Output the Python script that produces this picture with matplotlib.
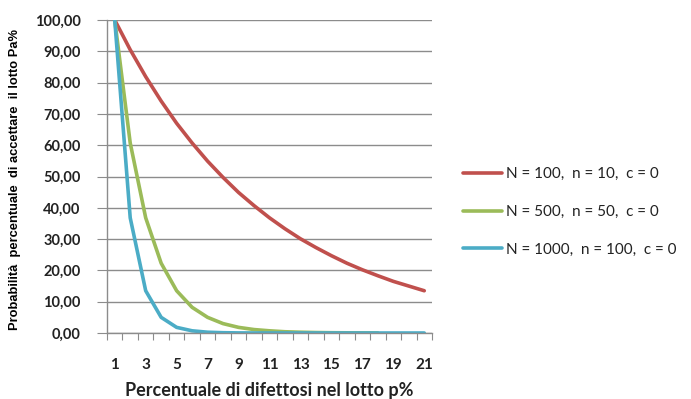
import matplotlib
matplotlib.use("Agg")
import matplotlib.pyplot as plt
import numpy as np

categories = list(range(1, 22))
tick_labels = [str(c) if c % 2 == 1 else "" for c in categories]

red_vals = [100.0, 90.5, 81.9, 74.1, 67.0, 60.7, 54.9, 49.7, 44.9, 40.7, 36.8,
            33.3, 30.1, 27.3, 24.7, 22.3, 20.2, 18.3, 16.5, 15.0, 13.5]
green_vals = [100.0, 60.7, 36.8, 22.3, 13.5, 8.2, 5.0, 3.0, 1.8, 1.1, 0.7,
              0.4, 0.25, 0.15, 0.09, 0.06, 0.03, 0.02]
blue_vals = [100.0, 36.8, 13.5, 5.0, 1.8, 0.7, 0.25, 0.09, 0.03, 0.01, 0.0,
             0.0, 0.0, 0.0, 0.0, 0.0, 0.0, 0.0, 0.0, 0.0, 0.0]
series_labels = ["N = 100,  n = 10,  c = 0",
                 "N = 500,  n = 50,  c = 0",
                 "N = 1000,  n = 100,  c = 0"]
colors = ["#C0504D", "#9BBB59", "#4BACC6"]

plt.rcParams['font.family'] = ['Lato', 'DejaVu Sans']

fig = plt.figure(figsize=(6.91, 3.99), dpi=100)
ax = fig.add_axes([107/691, 1-333/399, (432-107)/691, (333-20)/399])

for vals, lab, col in zip([red_vals, green_vals, blue_vals], series_labels, colors):
    ax.plot(categories[:len(vals)], vals, color=col, lw=2.6, label=lab,
            solid_joinstyle='round', solid_capstyle='round')

ax.set_xlim(0.5, 21.5)
ax.set_ylim(0, 100)
ax.set_yticks(np.arange(0, 101, 10))
ax.set_yticklabels([f"{v:.2f}".replace('.', ',') for v in np.arange(0, 101, 10)],
                   fontsize=10.5, fontweight='bold', color='#222222')
ax.yaxis.grid(True, color='#8c8c8c', lw=1.0)
ax.set_axisbelow(True)

ax.set_xticks(np.arange(0.5, 22, 1))
ax.set_xticklabels([])
ax.set_xticks(categories, minor=True)
ax.set_xticklabels(tick_labels, minor=True, fontsize=11, fontweight='bold', color='#222222')
ax.tick_params(axis='x', which='major', length=5, color='#8c8c8c', direction='out')
ax.tick_params(axis='x', which='minor', length=0, pad=18)
ax.tick_params(axis='y', length=7, color='#8c8c8c', pad=12)

for s in ['top', 'right']:
    ax.spines[s].set_visible(False)
for s in ['left', 'bottom']:
    ax.spines[s].set_color('#8c8c8c')
    ax.spines[s].set_linewidth(1.0)

ax.set_xlabel("Percentuale di difettosi nel lotto p%", fontsize=13, fontweight='bold',
              color='#222222', labelpad=7)
fig.text(15/691, 1-180/399, "Probabilità  percentuale  di accettare  il lotto Pa%",
         rotation=90, ha='center', va='center', fontsize=9.3, fontweight='bold',
         color='black', family=['Liberation Sans Narrow', 'Liberation Sans', 'DejaVu Sans'])

leg = fig.legend(loc='center left', bbox_to_anchor=(452/691, 1-212/399), frameon=False,
                 fontsize=11, handlelength=2.6, handletextpad=0.25, labelspacing=1.55,
                 borderpad=0.2)
for t in leg.get_texts():
    t.set_color('#222222')

fig.savefig("out.png", dpi=100)
